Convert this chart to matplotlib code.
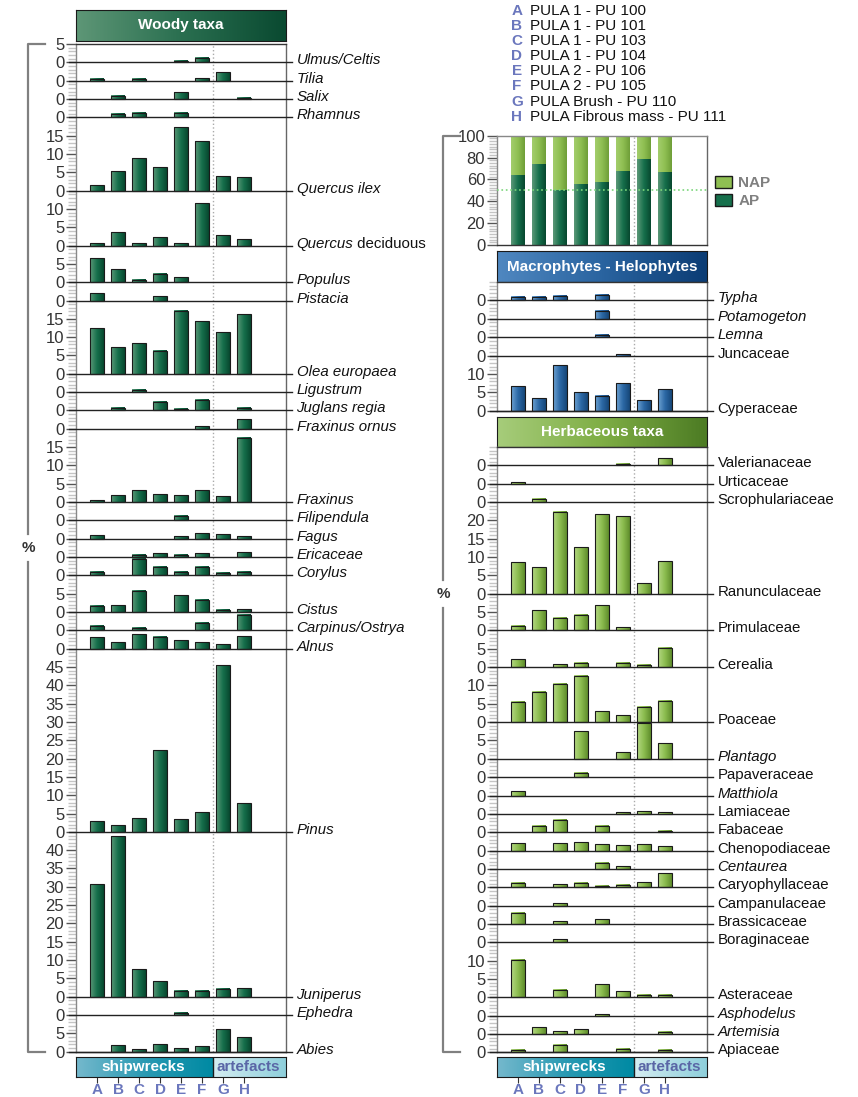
import numpy as np
import matplotlib.pyplot as plt
from matplotlib.colors import LinearSegmentedColormap
from matplotlib.patches import Patch

plt.rcParams['font.family'] = ['Liberation Sans', 'DejaVu Sans']

W, H = 858, 1097

samples = ['A', 'B', 'C', 'D', 'E', 'F', 'G', 'H']
sample_names = ['PULA 1 - PU 100', 'PULA 1 - PU 101', 'PULA 1 - PU 103',
                'PULA 1 - PU 104', 'PULA 2 - PU 106', 'PULA 2 - PU 105',
                'PULA Brush - PU 110', 'PULA Fibrous mass - PU 111']

# arboreal / non arboreal pollen (%)
ap_values = [64, 74, 50, 56, 58, 68, 79, 67]
nap_values = [36, 26, 50, 44, 42, 32, 21, 33]

# woody taxa, top to bottom; band = scale height of the curve (%)
woody_taxa = ['Ulmus/Celtis', 'Tilia', 'Salix', 'Rhamnus', 'Quercus ilex',
              'Quercus deciduous', 'Populus', 'Pistacia', 'Olea europaea',
              'Ligustrum', 'Juglans regia', 'Fraxinus ornus', 'Fraxinus',
              'Filipendula', 'Fagus', 'Ericaceae', 'Corylus', 'Cistus',
              'Carpinus/Ostrya', 'Alnus', 'Pinus', 'Juniperus', 'Ephedra', 'Abies']
woody_bands = [5, 5, 5, 5, 20, 15, 10, 5, 20, 5, 5, 5, 20, 5, 5, 5, 5, 10,
               5, 5, 50, 45, 5, 10]
woody_values = [
    [0, 0, 0, 0, 0.4, 1.1, 0, 0],
    [0.55, 0, 0.55, 0, 0, 0.7, 2.3, 0],
    [0, 0.9, 0, 0, 1.8, 0, 0, 0.35],
    [0, 0.9, 1.3, 0, 1.3, 0, 0, 0],
    [1.5, 5.45, 9.0, 6.4, 17.3, 13.5, 4.0, 3.7],
    [0.6, 3.6, 0.6, 2.2, 0.6, 11.5, 2.8, 1.7],
    [6.5, 3.5, 0.7, 2.2, 1.3, 0, 0, 0],
    [2.0, 0, 0, 1.2, 0, 0, 0, 0],
    [12.5, 7.2, 8.3, 6.3, 17.2, 14.4, 11.3, 16.2],
    [0, 0, 0.6, 0, 0, 0, 0, 0],
    [0, 0.8, 0, 2.2, 0.35, 2.9, 0, 0.65],
    [0, 0, 0, 0, 0, 0.65, 0, 2.7],
    [0.45, 1.8, 3.2, 2.1, 1.8, 3.2, 1.6, 17.5],
    [0, 0, 0, 0, 1.2, 0, 0, 0],
    [1.0, 0, 0, 0, 0.65, 1.45, 1.2, 0.65],
    [0, 0, 0.65, 1.0, 0.65, 1.0, 0, 1.3],
    [1.0, 0, 4.45, 2.2, 0.9, 2.2, 0.55, 1.0],
    [1.65, 1.9, 5.8, 0, 4.6, 3.3, 0.65, 0.8],
    [1.1, 0, 0.7, 0, 0, 2.0, 0, 4.3],
    [3.1, 1.9, 4.0, 3.3, 2.3, 1.9, 1.3, 3.45],
    [3.0, 1.9, 3.8, 22.2, 3.45, 5.4, 45.5, 7.8],
    [30.8, 43.8, 7.6, 4.2, 1.7, 1.7, 2.2, 2.3],
    [0, 0, 0, 0, 0.55, 0, 0, 0],
    [0, 1.7, 0.7, 2.0, 1.0, 1.45, 6.1, 3.9],
]

macro_taxa = ['Typha', 'Potamogeton', 'Lemna', 'Juncaceae', 'Cyperaceae']
macro_bands = [5, 5, 5, 5, 15]
macro_values = [
    [1.0, 1.0, 1.3, 0, 1.55, 0, 0, 0],
    [0, 0, 0, 0, 2.2, 0, 0, 0],
    [0, 0, 0, 0, 0.65, 0, 0, 0],
    [0, 0, 0, 0, 0, 0.35, 0, 0],
    [6.6, 3.5, 12.3, 5.1, 4.1, 7.45, 2.8, 5.9],
]

herb_taxa = ['Valerianaceae', 'Urticaceae', 'Scrophulariaceae', 'Ranunculaceae',
             'Primulaceae', 'Cerealia', 'Poaceae', 'Plantago', 'Papaveraceae',
             'Matthiola', 'Lamiaceae', 'Fabaceae', 'Chenopodiaceae', 'Centaurea',
             'Caryophyllaceae', 'Campanulaceae', 'Brassicaceae', 'Boraginaceae',
             'Asteraceae', 'Asphodelus', 'Artemisia', 'Apiaceae']
herb_bands = [5, 5, 5, 25, 10, 10, 15, 10, 5, 5, 5, 5, 5, 5, 5, 5, 5, 5,
              15, 5, 5, 5]
herb_values = [
    [0, 0, 0, 0, 0, 0.3, 0, 1.9],
    [0.45, 0, 0, 0, 0, 0, 0, 0],
    [0, 0.9, 0, 0, 0, 0, 0, 0],
    [8.6, 7.3, 22.4, 12.7, 21.8, 21.1, 2.9, 8.8],
    [1.1, 5.45, 3.4, 4.3, 6.8, 0.8, 0, 0],
    [2.1, 0, 0.8, 1.1, 0, 1.1, 0.7, 5.2],
    [5.6, 8.2, 10.4, 12.7, 2.9, 1.9, 4.1, 5.8],
    [0, 0, 0, 7.6, 0, 1.9, 9.9, 4.2],
    [0, 0, 0, 1.1, 0, 0, 0, 0],
    [1.1, 0, 0, 0, 0, 0, 0, 0],
    [0, 0, 0, 0, 0, 0.45, 0.7, 0.45],
    [0, 1.8, 3.3, 0, 1.8, 0, 0, 0.45],
    [2.0, 0, 2.0, 2.3, 1.65, 1.45, 1.7, 1.2],
    [0, 0, 0, 0, 1.65, 0.8, 0, 0],
    [1.1, 0, 0.8, 1.1, 0.45, 0.55, 1.3, 3.8],
    [0, 0, 0.8, 0, 0, 0, 0, 0],
    [3.1, 0, 0.7, 0, 1.3, 0, 0, 0],
    [0, 0, 0.8, 0, 0, 0, 0, 0],
    [10.1, 0, 2.0, 0, 3.5, 1.6, 0.7, 0.55],
    [0, 0, 0, 0, 0.35, 0, 0, 0],
    [0, 1.9, 0.8, 1.3, 0, 0, 0, 0.55],
    [0.65, 0, 2.1, 0, 0, 0.9, 0, 0.55],
]

italic_taxa = set(woody_taxa) | {'Typha', 'Potamogeton', 'Lemna', 'Plantago',
                                 'Matthiola', 'Centaurea', 'Asphodelus', 'Artemisia'}

LETTER = '#6b77bd'
GRAD = np.linspace(0, 1, 64).reshape(1, -1)
woody_cmap = LinearSegmentedColormap.from_list('woody', ['#5c9878', '#16704c', '#08472f'])
herb_cmap = LinearSegmentedColormap.from_list('herb', ['#b4d784', '#8cbd4f', '#5f8d2c'])
macro_cmap = LinearSegmentedColormap.from_list('macro', ['#6fa3d3', '#2c69a6', '#164779'])
nap_cmap = LinearSegmentedColormap.from_list('nap', ['#a3cd6c', '#8fbf52', '#6f9e38'])

fig = plt.figure(figsize=(W / 100, H / 100), dpi=100)


def px_rect(x0, y0, x1, y1):
    return [x0 / W, 1 - y1 / H, (x1 - x0) / W, (y1 - y0) / H]


def gradient_bars(ax, x, heights, bottoms, cmap, width=0.62, edge='#1a1a1a'):
    for xi, h, b in zip(x, heights, bottoms):
        ax.imshow(GRAD, extent=(xi - width / 2, xi + width / 2, b, b + h),
                  aspect='auto', cmap=cmap, interpolation='bilinear', zorder=2)
    if edge:
        ax.bar(x, heights, width, bottom=bottoms, facecolor='none',
               edgecolor=edge, linewidth=0.8, zorder=3)


def add_label(ax, name, base):
    if name == 'Quercus deciduous':
        t = ax.text(9.5, base - 0.55, 'Quercus', style='italic', fontsize=10.8,
                    va='baseline', color='#111')
        ax.annotate(' deciduous', xy=(1, 0), xycoords=t, va='bottom',
                    fontsize=10.8, color='#111')
    else:
        ax.text(9.5, base - 0.55, name, fontsize=10.8, va='baseline', color='#111',
                style='italic' if name in italic_taxa else 'normal')


def style_axes(ax):
    ax.set_xticks([])
    ax.tick_params(axis='y', which='major', length=7, width=1, color='#555',
                   labelsize=12, labelcolor='#333', pad=1.5)
    ax.tick_params(axis='y', which='minor', length=6, width=1, color='#c4c4c4')
    ax.spines['left'].set_color('#888')
    ax.spines['right'].set_color('#666')
    ax.spines['top'].set_color('#333')
    ax.spines['bottom'].set_color('#333')
    for s in ax.spines.values():
        s.set_linewidth(1)


def draw_bands(rect, taxa, bands, values, cmap, top_label):
    ax = fig.add_axes(rect)
    total = sum(bands)
    bases = total - np.cumsum(bands)
    x = np.arange(len(samples))
    ticks, labels = [], []
    for name, base, hgt, vals in zip(taxa, bases, bands, values):
        vals = np.array(vals, dtype=float)
        keep = vals > 0
        gradient_bars(ax, x[keep], vals[keep], np.full(keep.sum(), base), cmap)
        ax.plot([-1.35, 9.3], [base, base], color='#222', lw=1, clip_on=False, zorder=4)
        add_label(ax, name, base)
        for v in range(0, hgt, 5):
            ticks.append(base + v)
            labels.append(str(v))
    if top_label:
        ticks.append(total)
        labels.append(str(bands[0]))
    ax.set_yticks(ticks, labels)
    ax.set_yticks(np.arange(0, total + 1), minor=True)
    ax.axvline(5.5, color='#aaa', ls=':', lw=1, zorder=1)
    ax.set_xlim(-1, 9)
    ax.set_ylim(0, total)
    style_axes(ax)
    return ax


def header(rect, colors, text, text_color='white'):
    hax = fig.add_axes(rect)
    cmap = LinearSegmentedColormap.from_list('', colors)
    hax.imshow(GRAD, extent=(0, 1, 0, 1), aspect='auto', cmap=cmap, interpolation='bilinear')
    hax.set_xlim(0, 1)
    hax.set_ylim(0, 1)
    hax.set_xticks([])
    hax.set_yticks([])
    for s in hax.spines.values():
        s.set_color('#1a1a1a')
    hax.text(0.5, 0.5, text, ha='center', va='center', color=text_color,
             fontweight='bold', fontsize=11)


def group_strip(rect):
    bax = fig.add_axes(rect)
    ship = LinearSegmentedColormap.from_list('ship', ['#74b8cc', '#2a9ab3', '#008aa3'])
    arte = LinearSegmentedColormap.from_list('arte', ['#d4edf1', '#b0dde6', '#8ecfdb'])
    bax.imshow(GRAD, extent=(-1, 5.5, 0, 1), aspect='auto', cmap=ship, interpolation='bilinear')
    bax.imshow(GRAD, extent=(5.5, 9, 0, 1), aspect='auto', cmap=arte, interpolation='bilinear')
    bax.axvline(5.5, color='#1a1a1a', lw=1)
    bax.text(2.22, 0.5, 'shipwrecks', ha='center', va='center', color='white',
             fontweight='bold', fontsize=11)
    bax.text(7.2, 0.5, 'artefacts', ha='center', va='center', color='#5a66a6',
             fontweight='bold', fontsize=11)
    bax.set_xlim(-1, 9)
    bax.set_ylim(0, 1)
    bax.set_yticks([])
    bax.set_xticks(np.arange(len(samples)), samples, fontweight='bold')
    bax.tick_params(axis='x', length=4, color='#333', labelcolor=LETTER,
                    labelsize=11, pad=0.5)
    for s in bax.spines.values():
        s.set_color('#1a1a1a')


# overlay for brackets and sample legend (pixel coordinates)
ov = fig.add_axes([0, 0, 1, 1], zorder=-1)
ov.set_xlim(0, W)
ov.set_ylim(H, 0)
ov.axis('off')
for xb, top, bot, mid in [(28, 44, 1052, 548), (443, 136, 1052, 594)]:
    ov.plot([xb + 17, xb, xb], [top, top, mid - 14], color='#808080', lw=1.6)
    ov.plot([xb, xb, xb + 17], [mid + 14, bot, bot], color='#808080', lw=1.6)
    ov.text(xb, mid, '%', ha='center', va='center', fontweight='bold',
            fontsize=11, color='#333')
for i, (s, name) in enumerate(zip(samples, sample_names)):
    ov.text(517, 11 + i * 15.1, s, ha='center', va='center', color=LETTER,
            fontweight='bold', fontsize=11)
    ov.text(530, 11 + i * 15.1, name, ha='left', va='center', fontsize=11, color='#111')

# woody column
header(px_rect(76, 10, 286, 40.7), ['#5d9676', '#2a6f50', '#0a4a31'], 'Woody taxa')
draw_bands(px_rect(76, 44, 286, 1051.7), woody_taxa, woody_bands, woody_values,
           woody_cmap, top_label=True)
group_strip(px_rect(76, 1057, 286, 1077))

# AP / NAP summary
ax_ap = fig.add_axes(px_rect(497, 135.7, 707, 245))
x = np.arange(len(samples))
gradient_bars(ax_ap, x, ap_values, np.zeros(len(x)), woody_cmap, width=0.63, edge=None)
gradient_bars(ax_ap, x, nap_values, ap_values, nap_cmap, width=0.63, edge=None)
ax_ap.axhline(50, color='#7bd67b', ls=':', lw=1.2, zorder=4)
ax_ap.axvline(5.5, color='#aaa', ls=':', lw=1, zorder=4)
ax_ap.set_xlim(-1, 9)
ax_ap.set_ylim(0, 100)
ax_ap.set_yticks(np.arange(0, 101, 20))
ax_ap.set_yticks(np.arange(0, 101, 2.5), minor=True)
style_axes(ax_ap)
ax_ap.spines['top'].set_color('#888')
ax_ap.legend(handles=[Patch(facecolor='#8fbf52', edgecolor='#1a1a1a', label='NAP'),
                      Patch(facecolor='#16704c', edgecolor='#1a1a1a', label='AP')],
             loc='upper left', bbox_to_anchor=(1.04, 0.63), frameon=False,
             borderaxespad=0, borderpad=0, handlelength=1.1, handleheight=0.8,
             labelspacing=0.25, handletextpad=0.4,
             prop={'weight': 'bold', 'size': 11}, labelcolor='#808080')

# macrophytes and herbaceous columns
header(px_rect(497, 251, 707, 282), ['#4f87c0', '#2a64a0', '#0c3d75'],
       'Macrophytes - Helophytes')
draw_bands(px_rect(497, 282, 707, 410.7), macro_taxa, macro_bands, macro_values,
           macro_cmap, top_label=False)
header(px_rect(497, 416.7, 707, 446.7), ['#a6cc7a', '#7fae45', '#4d7c24'],
       'Herbaceous taxa')
draw_bands(px_rect(497, 447, 707, 1052.3), herb_taxa, herb_bands, herb_values,
           herb_cmap, top_label=False)
group_strip(px_rect(497, 1057, 707, 1077))

fig.savefig('out.png', dpi=100, facecolor='white')
